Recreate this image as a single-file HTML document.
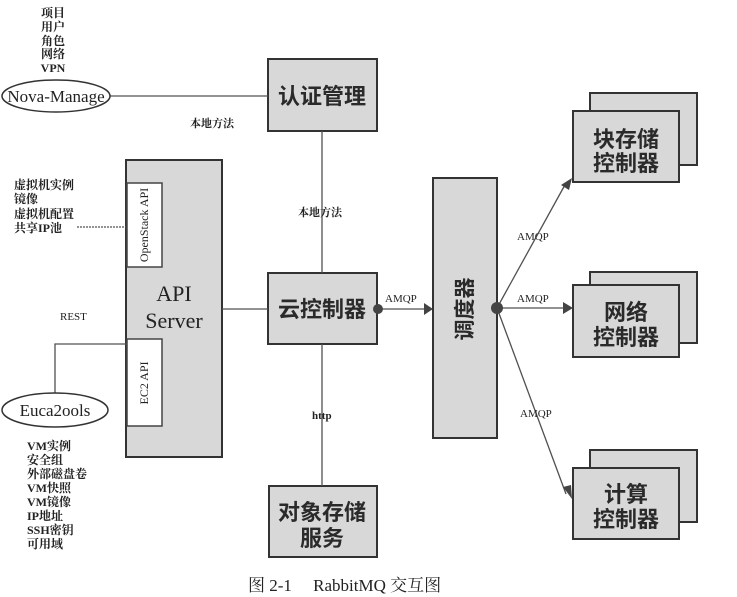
<!DOCTYPE html>
<html><head><meta charset="utf-8">
<style>
html,body{margin:0;padding:0;background:#fff;}
svg{display:block;}
.s{font-family:"Liberation Serif","Noto Serif CJK SC",serif;fill:#222;}
.b{font-family:"Liberation Sans","Noto Sans CJK SC",sans-serif;fill:#2a2a2a;}
</style></head>
<body>
<svg width="737" height="597" viewBox="0 0 737 597" xmlns="http://www.w3.org/2000/svg">
<g fill="#d8d8d8" stroke="#333" stroke-width="2">
<rect x="268" y="59" width="109" height="72"/>
<rect x="126" y="160" width="96" height="297"/>
<rect x="268" y="273" width="109" height="71"/>
<rect x="269" y="486" width="108" height="71"/>
<rect x="433" y="178" width="64" height="260"/>
<rect x="590" y="93" width="107" height="72"/>
<rect x="590" y="272" width="107" height="71"/>
<rect x="590" y="450" width="107" height="72"/>
<rect x="573" y="111" width="106" height="71"/>
<rect x="573" y="285" width="106" height="72"/>
<rect x="573" y="468" width="106" height="71"/>
</g>
<g fill="#fff" stroke="#444" stroke-width="1.5">
<rect x="127" y="183" width="35" height="84"/>
<rect x="127" y="339" width="35" height="87"/>
</g>
<g stroke="#505050" stroke-width="1.3" fill="none">
<line x1="110" y1="96" x2="268" y2="96"/>
<line x1="322" y1="131" x2="322" y2="273"/>
<line x1="322" y1="344" x2="322" y2="486"/>
<line x1="222" y1="309" x2="268" y2="309"/>
<line x1="77" y1="227" x2="126" y2="227" stroke-dasharray="2 1"/>
<polyline points="55,393 55,344 127,344"/>
<line x1="377" y1="309" x2="428" y2="309"/>
<line x1="497" y1="308" x2="566" y2="183"/>
<line x1="497" y1="308" x2="566" y2="308"/>
<line x1="497" y1="308" x2="566" y2="494"/>
</g>
<g fill="#444">
<circle cx="378" cy="309" r="5"/>
<circle cx="497" cy="308" r="6"/>
<polygon points="433,309 424,303 424,315"/>
<polygon points="573,308 563,302 563,314"/>
<polygon points="572,178 561,185 569,190"/>
<polygon points="572,499 563,487 571,485"/>
</g>
<ellipse cx="56" cy="96" rx="54" ry="16" fill="#fff" stroke="#333" stroke-width="1.5"/>
<ellipse cx="55" cy="410" rx="53" ry="17" fill="#fff" stroke="#333" stroke-width="1.5"/>
<text class="s" x="56" y="102" font-size="17" text-anchor="middle">Nova-Manage</text>
<text class="s" x="55" y="416" font-size="17" text-anchor="middle">Euca2ools</text>
<g class="s" font-size="12" text-anchor="middle" font-weight="bold">
<text x="53" y="17">项目</text>
<text x="53" y="31">用户</text>
<text x="53" y="45">角色</text>
<text x="53" y="58">网络</text>
<text x="53" y="72">VPN</text>
</g>
<g class="s" font-size="12" font-weight="bold">
<text x="14" y="189">虚拟机实例</text>
<text x="14" y="203">镜像</text>
<text x="14" y="218">虚拟机配置</text>
<text x="14" y="232">共享IP池</text>
</g>
<g class="s" font-size="12" font-weight="bold">
<text x="27" y="450">VM实例</text>
<text x="27" y="464">安全组</text>
<text x="27" y="478">外部磁盘卷</text>
<text x="27" y="492">VM快照</text>
<text x="27" y="506">VM镜像</text>
<text x="27" y="520">IP地址</text>
<text x="27" y="534">SSH密钥</text>
<text x="27" y="548">可用域</text>
</g>
<g class="s" font-size="11" font-weight="bold">
<text x="190" y="127">本地方法</text>
<text x="298" y="216">本地方法</text>
<text x="312" y="419">http</text>
</g>
<g class="s" font-size="11">
<text x="60" y="320">REST</text>
<text x="385" y="302">AMQP</text>
<text x="517" y="240">AMQP</text>
<text x="517" y="302">AMQP</text>
<text x="520" y="417">AMQP</text>
</g>
<text class="s" font-size="12" text-anchor="middle" transform="translate(148,225) rotate(-90)">OpenStack API</text>
<text class="s" font-size="12" text-anchor="middle" transform="translate(148,383) rotate(-90)">EC2 API</text>
<text class="s" x="174" y="301" font-size="22" text-anchor="middle">API</text>
<text class="s" x="174" y="328" font-size="22" text-anchor="middle">Server</text>
<g class="b" font-size="22" text-anchor="middle" font-weight="bold">
<text x="322" y="104">认证管理</text>
<text x="322" y="317">云控制器</text>
<text x="322" y="520">对象存储</text>
<text x="322" y="546">服务</text>
<text x="626" y="147">块存储</text>
<text x="626" y="171">控制器</text>
<text x="626" y="320">网络</text>
<text x="626" y="345">控制器</text>
<text x="626" y="502">计算</text>
<text x="626" y="527">控制器</text>
</g>
<text class="b" font-size="21" font-weight="bold" text-anchor="middle" transform="translate(472,309) rotate(-90)">调度器</text>
<text class="s" x="248" y="591" font-size="17">图 2-1　 RabbitMQ 交互图</text>
</svg>
</body></html>
